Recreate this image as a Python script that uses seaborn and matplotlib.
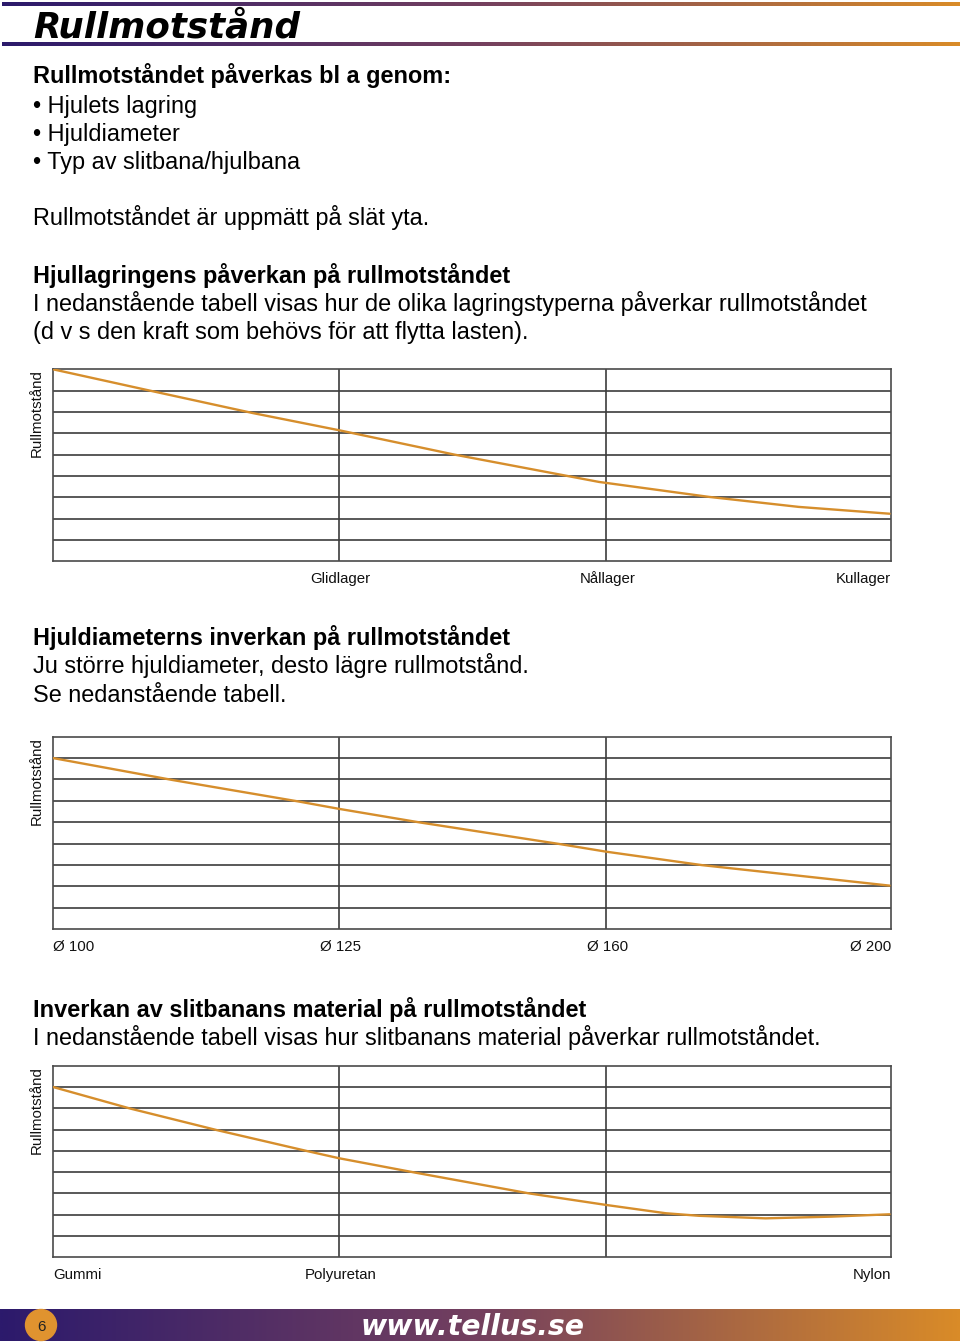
import numpy as np
import matplotlib
matplotlib.use('Agg')
import matplotlib.pyplot as plt
import seaborn as sns
from matplotlib.colors import LinearSegmentedColormap
from matplotlib.patches import Circle

# ---------------- data ----------------
# x is the position along the horizontal scale (0 = left edge, 3 = right edge)
# y is the height in grid rows (0 = bottom, 9 = top)
bearing_labels = ['Glidlager', 'Nållager', 'Kullager']
bearing_x = [0.0, 0.358, 0.716, 1.027, 1.44, 1.958, 2.352, 2.674, 3.0]
bearing_y = [9.0, 7.97, 6.95, 6.14, 5.0, 3.72, 3.02, 2.55, 2.23]

diameter_labels = ['Ø 100', 'Ø 125', 'Ø 160', 'Ø 200']
diameter_x = [0.0, 0.43, 0.884, 1.027, 1.314, 1.815, 1.983, 2.327, 3.0]
diameter_y = [8.0, 6.97, 5.96, 5.62, 4.99, 3.98, 3.62, 2.99, 2.03]

material_labels = ['Gummi', 'Polyuretan', 'Nylon']
material_x = [0.0, 0.276, 0.586, 0.908, 1.027, 1.302, 1.708, 1.983, 2.197, 2.316, 2.555, 2.792, 3.0]
material_y = [8.0, 6.99, 5.98, 5.0, 4.65, 3.97, 3.0, 2.46, 2.07, 1.95, 1.83, 1.91, 2.02]

y_label = 'Rullmotstånd'

# ---------------- style ----------------
sns.set_theme(style='white')
plt.rcParams['font.family'] = ['Liberation Sans', 'DejaVu Sans']

W, H = 960, 1343
DPI = 100
ORANGE = '#d68e2c'
GRID = '#3c3c3c'
BODY = 16.9
TICK = 10.8
cmap = LinearSegmentedColormap.from_list('tellus', ['#2c1a6c', '#74405f', '#d98b28'])

fig = plt.figure(figsize=(W / DPI, H / DPI), dpi=DPI)
fig.patch.set_facecolor('white')

# page background axes in pixel coordinates
bg = fig.add_axes([0, 0, 1, 1])
bg.set_axis_off()
grad = np.linspace(0, 1, 512)[None, :]
bg.imshow(grad, cmap=cmap, extent=(2, 960, 6, 2), aspect='auto', interpolation='bilinear')
bg.imshow(grad, cmap=cmap, extent=(2, 960, 46.5, 42.5), aspect='auto', interpolation='bilinear')
bg.imshow(grad, cmap=cmap, extent=(0, 960, 1341, 1309), aspect='auto', interpolation='bilinear')
bg.add_patch(Circle((41, 1325), 15.5, color='#e0932f', zorder=3))
bg.text(41, 1331, '6', ha='center', va='baseline', fontsize=11, color='#222222', zorder=4)
bg.text(473, 1335, 'www.tellus.se', ha='center', va='baseline', fontsize=20.4,
        color='white', fontweight='bold', fontstyle='italic', family='DejaVu Sans', zorder=4)

bg.text(33, 37.5, 'Rullmotstånd', ha='left', va='baseline', fontsize=25.7,
        fontweight='bold', fontstyle='italic', family='DejaVu Sans', color='black')

body = [
    (83.5, 'Rullmotståndet påverkas bl a genom:', 'bold'),
    (112.5, '• Hjulets lagring', 'normal'),
    (140.5, '• Hjuldiameter', 'normal'),
    (169.5, '• Typ av slitbana/hjulbana', 'normal'),
    (225.5, 'Rullmotståndet är uppmätt på slät yta.', 'normal'),
    (282.5, 'Hjullagringens påverkan på rullmotståndet', 'bold'),
    (310.5, 'I nedanstående tabell visas hur de olika lagringstyperna påverkar rullmotståndet', 'normal'),
    (338.5, '(d v s den kraft som behövs för att flytta lasten).', 'normal'),
    (645.5, 'Hjuldiameterns inverkan på rullmotståndet', 'bold'),
    (673.5, 'Ju större hjuldiameter, desto lägre rullmotstånd.', 'normal'),
    (701.5, 'Se nedanstående tabell.', 'normal'),
    (1016.5, 'Inverkan av slitbanans material på rullmotståndet', 'bold'),
    (1044.5, 'I nedanstående tabell visas hur slitbanans material påverkar rullmotståndet.', 'normal'),
]
for yb, txt, wt in body:
    bg.text(33, yb, txt, ha='left', va='baseline', fontsize=BODY, fontweight=wt, color='black')

bg.set_xlim(0, W)
bg.set_ylim(H, 0)

# ---------------- charts ----------------
GRID_X = [1.024, 1.983]


def chart(top_px, bottom_px, xs, ys, ticks, labels, has):
    left = 53 / W
    width = 838 / W
    bottom = 1 - bottom_px / H
    height = (bottom_px - top_px) / H
    ax = fig.add_axes([left, bottom, width, height])
    ax.set_facecolor('white')
    for yv in range(1, 9):
        ax.axhline(yv, color=GRID, lw=1.2, zorder=1)
    for xv in GRID_X:
        ax.axvline(xv, color=GRID, lw=1.2, zorder=1)
    sns.lineplot(x=xs, y=ys, ax=ax, color=ORANGE, linewidth=1.7, estimator=None,
                 sort=False, zorder=3)
    ax.set_xlim(0, 3)
    ax.set_ylim(0, 9)
    ax.set_yticks([])
    ax.set_xticks(ticks)
    ax.set_xticklabels(labels)
    for lbl, ha in zip(ax.get_xticklabels(), has):
        lbl.set_horizontalalignment(ha)
        lbl.set_verticalalignment('baseline')
    ax.tick_params(axis='x', length=0, pad=15.5, labelsize=TICK, colors='#111111')
    for s in ax.spines.values():
        s.set_visible(True)
        s.set_color('#4a4a4a')
        s.set_linewidth(1.2)
    ax.set_xlabel('')
    ax.set_ylabel('')
    ax.text(-16 / 838, 1.0, y_label, rotation=90, ha='center', va='top',
            transform=ax.transAxes, fontsize=TICK, color='#111111')
    return ax


chart(369.3, 561.3, bearing_x, bearing_y,
      [1.03, 1.99, 3.005], bearing_labels, ['center', 'center', 'right'])
chart(736.7, 929.0, diameter_x, diameter_y,
      [0.0, 1.03, 1.99, 3.005], diameter_labels, ['left', 'center', 'center', 'right'])
chart(1065.7, 1257.3, material_x, material_y,
      [0.0, 1.03, 3.005], material_labels, ['left', 'center', 'right'])

fig.savefig('out.png', dpi=DPI, facecolor='white')
